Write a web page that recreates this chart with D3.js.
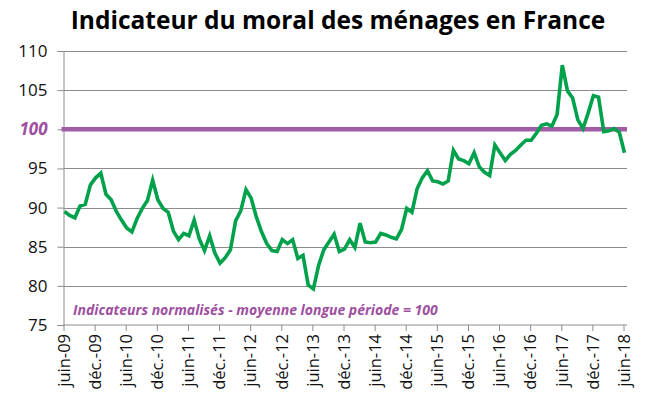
<!DOCTYPE html>
<html>
<head>
<meta charset="utf-8">
<script src="https://d3js.org/d3.v7.min.js"></script>
<style>
  body { margin: 0; background: #fff; }
  svg text { font-family: "Open Sans", sans-serif; }
  .grid line { stroke: #8c8c8c; stroke-width: 1px; }
</style>
</head>
<body>
<div id="chart"></div>
<script>
// monthly values, juin-09 .. juin-18
const values = [
  89.5, 89.0, 88.7, 90.2, 90.4, 92.9, 93.8, 94.4, 91.7, 91.0, 89.5, 88.4,
  87.4, 86.9, 88.6, 89.9, 90.9, 93.5, 91.0, 89.9, 89.4, 87.0, 85.9, 86.7,
  86.4, 88.4, 86.0, 84.5, 86.4, 84.2, 82.9, 83.6, 84.6, 88.3, 89.6, 92.3,
  91.2, 88.8, 86.9, 85.4, 84.5, 84.4, 85.9, 85.4, 85.9, 83.5, 83.9, 80.1,
  79.6, 82.6, 84.6, 85.6, 86.6, 84.4, 84.7, 85.9, 84.9, 88.0, 85.6, 85.5,
  85.6, 86.7, 86.5, 86.2, 86.0, 87.2, 89.9, 89.4, 92.4, 93.8, 94.7, 93.4,
  93.3, 93.0, 93.4, 97.3, 96.2, 96.0, 95.6, 97.0, 95.2, 94.5, 94.1, 98.0,
  97.0, 96.0, 96.8, 97.3, 98.0, 98.6, 98.6, 99.5, 100.5, 100.7, 100.4, 101.9,
  108.2, 104.9, 104.0, 101.2, 100.1, 102.1, 104.3, 104.1, 99.7, 99.8, 100.1, 99.6,
  97.0
];
const tickLabels = ["juin-09", "déc.-09", "juin-10", "déc.-10", "juin-11", "déc.-11",
  "juin-12", "déc.-12", "juin-13", "déc.-13", "juin-14", "déc.-14", "juin-15",
  "déc.-15", "juin-16", "déc.-16", "juin-17", "déc.-17", "juin-18"];
const yTicks = [75, 80, 85, 90, 95, 100, 105, 110];
const reference = 100;

const W = 651, H = 401;
const svg = d3.select("#chart").append("svg").attr("width", W).attr("height", H);

const x = d3.scaleLinear().domain([0, values.length - 1]).range([64.5, 624.5]);
const y = d3.scaleLinear().domain([75, 110]).range([325, 51]);
const xRight = 627;

// title
svg.append("text")
  .attr("x", 338).attr("y", 29)
  .attr("text-anchor", "middle")
  .style("font-size", "24.5px").style("font-weight", "bold")
  .text("Indicateur du moral des ménages en France");

// gridlines
svg.append("g").attr("class", "grid")
  .selectAll("line").data(yTicks.filter(d => d > 75)).enter().append("line")
  .attr("x1", x(0) - 1).attr("x2", xRight)
  .attr("y1", d => Math.round(y(d)) + 0.5).attr("y2", d => Math.round(y(d)) + 0.5);

// y axis
const yAxis = svg.append("g")
  .attr("transform", `translate(${x(0) - 1},0)`)
  .call(d3.axisLeft(y).tickValues(yTicks).tickSize(6).tickPadding(10));
yAxis.select(".domain").attr("stroke", "#8c8c8c");
yAxis.selectAll(".tick line").attr("stroke", "#8c8c8c");
yAxis.selectAll(".tick text")
  .style("font-size", "17px").attr("fill", "#111")
  .filter(d => d === reference)
  .attr("fill", "#9e4f9f").style("font-weight", "bold").style("font-style", "italic");

// x axis
const tickIdx = tickLabels.map((d, i) => i * 6);
const xAxis = svg.append("g")
  .attr("transform", `translate(-1,${y(75)})`)
  .call(d3.axisBottom(x).tickValues(tickIdx).tickSize(6)
    .tickFormat((d, i) => tickLabels[i]));
xAxis.select(".domain").attr("stroke", "#8c8c8c").attr("d", `M${x(0)},0H${xRight + 1}`);
xAxis.selectAll(".tick line").attr("stroke", "#8c8c8c");
xAxis.selectAll(".tick text")
  .style("font-size", "16.5px").attr("fill", "#111")
  .attr("transform", "rotate(-90)")
  .attr("text-anchor", "end")
  .attr("x", -9).attr("y", 0).attr("dy", "0.35em");

// reference line
svg.append("line")
  .attr("x1", x(0) - 3).attr("x2", xRight)
  .attr("y1", y(reference)).attr("y2", y(reference))
  .attr("stroke", "#a25ca6").attr("stroke-width", 4.5);

// series
svg.append("path")
  .datum(values)
  .attr("fill", "none")
  .attr("stroke", "#00a14b")
  .attr("stroke-width", 3.6)
  .attr("stroke-linejoin", "miter")
  .attr("d", d3.line().x((d, i) => x(i)).y(d => y(d)));

// note
svg.append("text")
  .attr("x", 73).attr("y", 315)
  .attr("fill", "#9e4f9f")
  .style("font-size", "14px").style("font-weight", "bold").style("font-style", "italic")
  .text("Indicateurs normalisés - moyenne longue période = 100");
</script>
</body>
</html>
